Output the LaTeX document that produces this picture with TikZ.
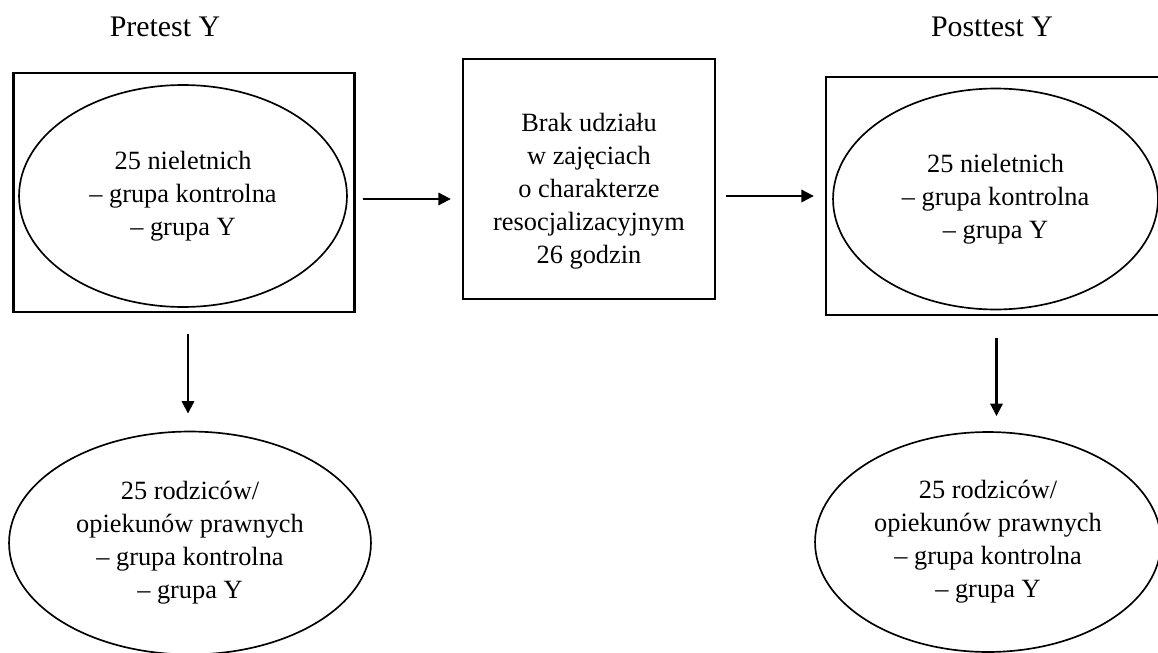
\documentclass[tikz,border=0pt]{standalone}
\usepackage{fontspec}
\setmainfont{Liberation Serif}
\usetikzlibrary{positioning, shapes.geometric, arrows.meta}

\begin{document}
\begin{tikzpicture}[
        x=0.02cm, y=-0.02cm,
        font=\fontsize{15}{18.8}\selectfont,
        box/.style={draw, line width=1.2pt, inner sep=0pt, align=center},
        oval/.style={draw, ellipse, line width=0.95pt, inner sep=0pt, align=center},
        title/.style={font=\fontsize{17}{20}\selectfont},
        arr/.style={-{Triangle[length=0.25cm, width=0.24cm]}, line width=1.7pt},
    ]
        \useasboundingbox (0,0) rectangle (1158,652);
        % Pretest column
        \node[title] (pretitle) at (165,27) {Pretest Y};
        \node[box, minimum width=6.82cm, minimum height=4.78cm] (prebox) at (184,192.5) {};
        \node[oval, minimum width=6.56cm, minimum height=4.44cm] (preteen) at (183,196) {25 nieletnich\\ – grupa kontrolna\\ – grupa Y};
        \node[oval, minimum width=7.24cm, minimum height=4.46cm] (preparent) at (190,543) {25 rodziców/\\ opiekunów prawnych\\ – grupa kontrolna\\ – grupa Y};
        % Middle step
        \node[box, minimum width=5.04cm, minimum height=4.8cm] (mid) at (589,179) {\rule{0pt}{24pt}Brak udziału\\ w zajęciach\\ o charakterze\\ resocjalizacyjnym\\ 26 godzin};
        % Posttest column
        \node[title] (posttitle) at (992,27) {Posttest Y};
        \node[box, minimum width=6.82cm, minimum height=4.76cm] (postbox) at (996.5,196) {};
        \node[oval, minimum width=6.5cm, minimum height=4.42cm] (postteen) at (995.5,199) {25 nieletnich\\ – grupa kontrolna\\ – grupa Y};
        \node[oval, minimum width=6.92cm, minimum height=4.4cm] (postparent) at (988,542) {25 rodziców/\\ opiekunów prawnych\\ – grupa kontrolna\\ – grupa Y};

        \draw[arr, shorten <=0.14cm, shorten >=0.22cm] ([yshift=-0.13cm]prebox.east) -- ([yshift=-0.13cm]prebox.east -| mid.west);
        \draw[arr, shorten <=0.2cm, shorten >=0.22cm] (mid.east |- postbox.west) -- (postbox.west);
        \draw[arr, shorten <=0.42cm, shorten >=0.34cm] ([xshift=0.08cm]prebox.south) -- ([xshift=0.08cm]prebox.south |- preparent.north);
        \draw[arr, shorten <=0.44cm, shorten >=0.3cm] (postbox.south) -- (postbox.south |- postparent.north);
    \end{tikzpicture}
\end{document}
